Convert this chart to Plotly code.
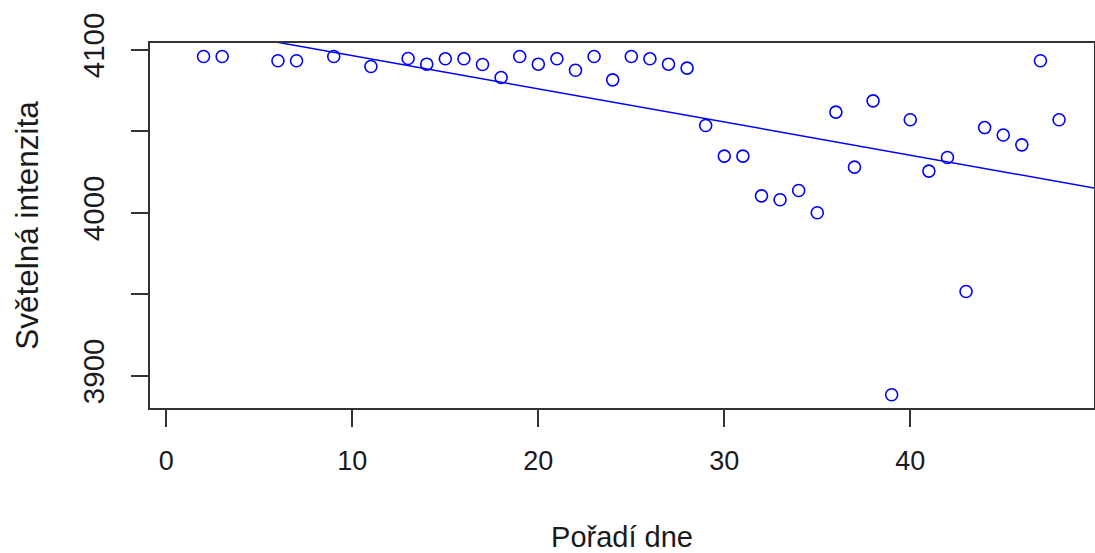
import numpy as np
import plotly.graph_objects as go

# Data
den = [2, 3, 6, 7, 9, 11, 13, 14, 15, 16, 17, 18, 19, 20, 21, 22, 23, 24, 25, 26, 27, 28,
       29, 30, 31, 32, 33, 34, 35, 36, 37, 38, 39, 40, 41, 42, 43, 44, 45, 46, 47, 48]
intenzita = [4095.9, 4095.9, 4093.3, 4093.3, 4095.9, 4089.8, 4094.7, 4091.2, 4094.5, 4094.5,
             4091.0, 4083.0, 4095.9, 4091.2, 4094.5, 4087.5, 4095.9, 4081.6, 4095.9, 4094.5,
             4091.2, 4088.8, 4053.6, 4034.8, 4034.8, 4010.4, 4008.0, 4013.7, 4000.0, 4061.8,
             4028.0, 4068.7, 3888.3, 4057.1, 4025.6, 4033.9, 3951.7, 4052.3, 4047.7, 4041.7,
             4093.3, 4057.1]
x_ticks = [0, 10, 20, 30, 40]
y_ticks = [3900, 3950, 4000, 4050, 4100]
y_ticktext = ["3900", "", "4000", "", "4100"]
x_label = "Pořadí dne"
y_label = "Světelná intenzita"

slope, intercept = np.polyfit(den, intenzita, 1)
x_rng = [-0.88, 49.88]
line_x = np.array([x_rng[0] - 1, x_rng[1] + 1])
line_y = intercept + slope * line_x

FONT = "Liberation Sans, Arial, sans-serif"
TXT = "#1a1a1a"
BLUE = "#0000FF"

fig = go.Figure()
fig.add_trace(go.Scatter(x=den, y=intenzita, mode="markers",
                         marker=dict(symbol="circle-open", size=12, color=BLUE,
                                     line=dict(width=1.6, color=BLUE)),
                         showlegend=False, cliponaxis=False))
fig.add_trace(go.Scatter(x=line_x, y=line_y, mode="lines",
                         line=dict(color=BLUE, width=1.5), showlegend=False))

fig.update_layout(
    width=1095, height=553,
    margin=dict(l=150, r=1, t=43, b=145, autoexpand=False),
    paper_bgcolor="white", plot_bgcolor="white",
    font=dict(family=FONT, size=27, color=TXT),
)
fig.update_xaxes(range=x_rng, tickvals=x_ticks, ticks="outside", ticklen=17, tickwidth=1.5,
                 tickcolor="#333", showline=True, mirror=True, linecolor="#333", linewidth=1.6,
                 showgrid=False, zeroline=False, automargin=False,
                 tickfont=dict(size=27, color=TXT), ticklabelstandoff=11,
                 title=dict(text=x_label, font=dict(size=29, color=TXT), standoff=54))
fig.update_yaxes(range=[3880.2, 4104.2], tickvals=y_ticks, ticktext=y_ticktext,
                 ticks="outside", ticklen=17, tickwidth=1.5, tickcolor="#333", tickangle=-90,
                 showline=True, mirror=True, linecolor="#333", linewidth=1.6,
                 showgrid=False, zeroline=False, automargin=False,
                 tickfont=dict(size=29.5, color=TXT), ticklabelstandoff=15,
                 title=dict(text=y_label, font=dict(size=31.5, color=TXT), standoff=29))

fig.write_html("out.html", config={"displayModeBar": False},
               post_script="document.body.style.margin='0';document.body.style.overflow='hidden';")
